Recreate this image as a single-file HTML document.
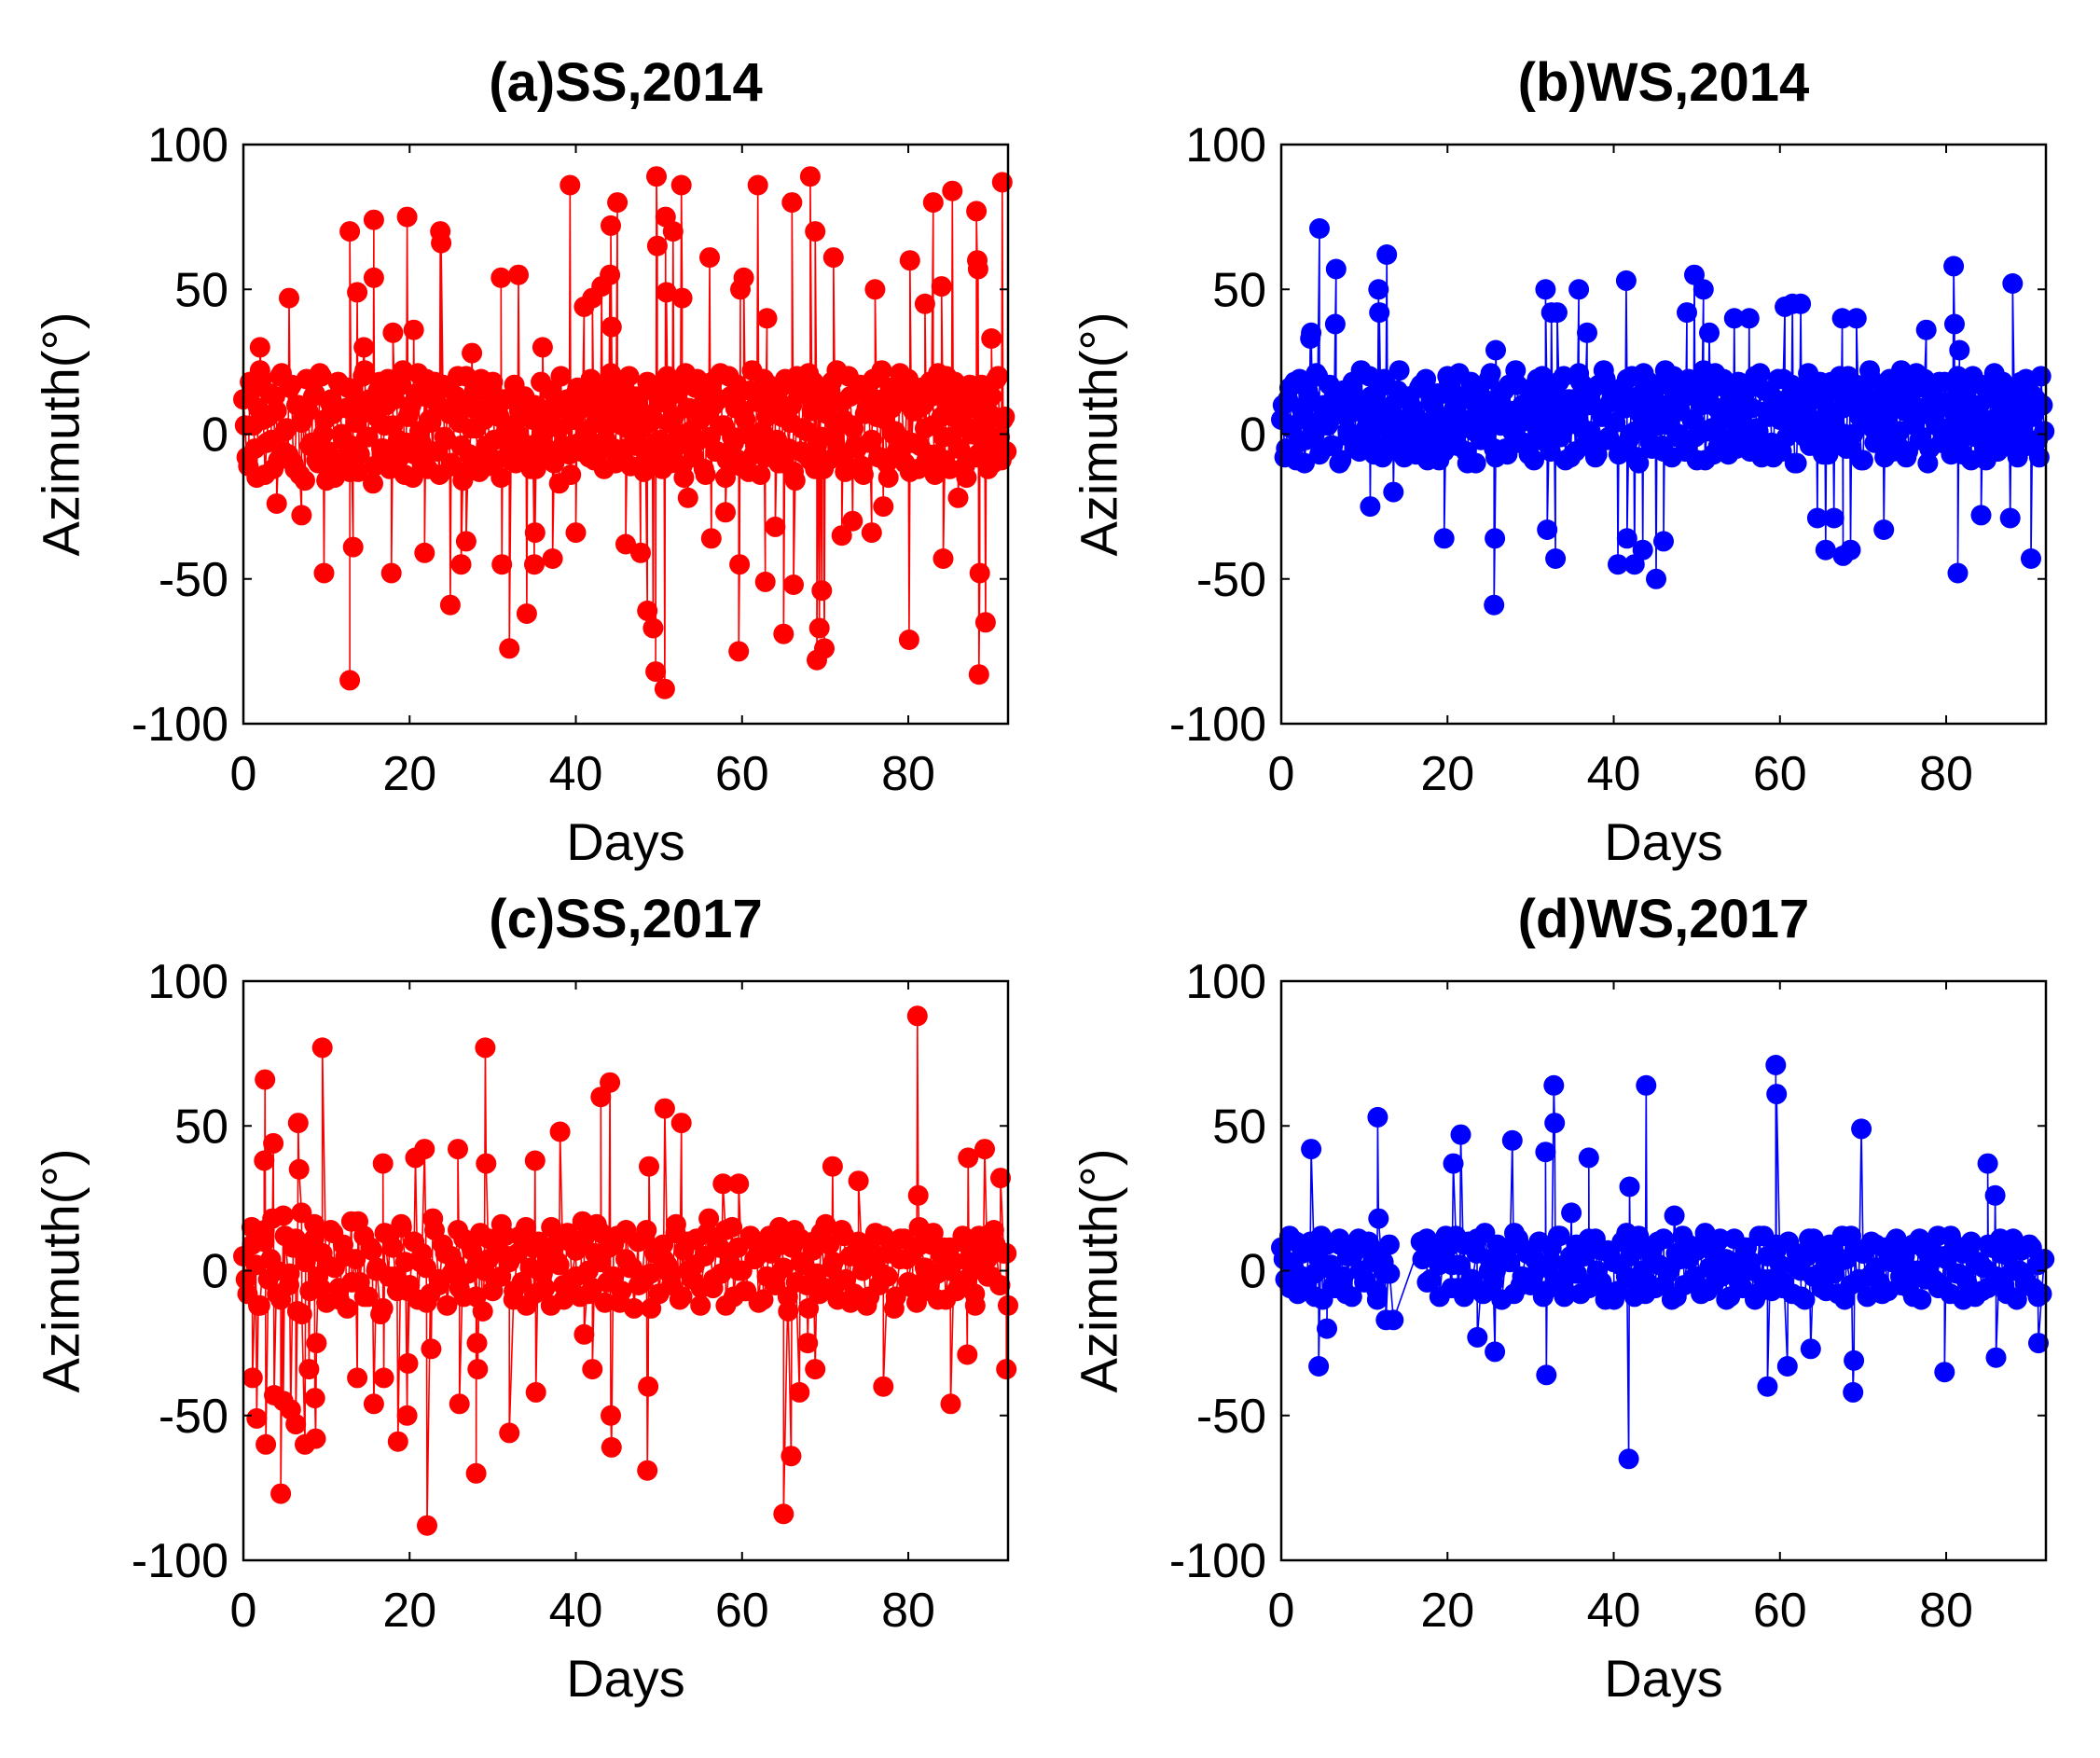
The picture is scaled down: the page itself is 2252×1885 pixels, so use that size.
<!DOCTYPE html>
<html><head><meta charset="utf-8"><style>
html,body{margin:0;padding:0;background:#fff}
svg{display:block}
text{font-family:"Liberation Sans",Arial,sans-serif;fill:#000}
</style></head><body>
<svg id="fig" width="2252" height="1885" viewBox="0 0 2252 1885" xmlns="http://www.w3.org/2000/svg"></svg>
<script>
// ---- data ----
const xTicks=[0,20,40,60,80];
const yTicks=[100,50,0,-50,-100];
const titles=["(a)SS,2014","(b)WS,2014","(c)SS,2017","(d)WS,2017"];
const aBaseStep=0.4;
const aBase=[12,-8,18,3,-15,22,5,-3,14,-12,8,20,-6,2,16,-10,10,-14,6,19,
-4,13,-9,21,0,-16,11,7,-11,17,-2,9,-13,15,4,-7,20,-1,12,-17,
6,18,-5,10,-12,3,16,-8,22,-3,8,-15,14,1,-10,19,5,-6,11,-14,
17,-2,7,-11,13,4,-16,20,-7,9,2,-13,15,-4,10,18,-9,6,-1,12,
-6,3,-10,8,-3,11,-8,5,-12,9,0,-5,7,-9,12,2,-4,10,-7,6,
14,-3,9,1,-8,16,4,-6,12,-2,18,7,-10,15,3,-5,20,8,-4,13,
2,-9,17,6,-3,11,-12,19,4,-7,14,0,-11,21,9,-5,16,-2,10,-14,
7,18,-6,12,3,-15,20,-1,9,-9,15,5,-13,22,-4,11,1,-8,17,-3,
13,-10,6,19,-5,10,-16,14,2,-7,21,8,-12,16,-1,9,-9,18,4,-6,
11,-13,20,3,-4,15,-11,7,17,-2,12,-8,22,5,-15,9,1,-6,14,-10,
19,-3,8,-12,16,2,-7,13,-14,21,6,-9,10,-1,18,-5,4,-11,15,0,
9,-7,17,3,-12,13,-4,20,-9,6];
const aBase2=[3,-11,15,-5,9,19,-14,6,-2,13,-9,21,1,-7,17,-12,10,4,-16,8,
-3,14,-10,20,5,-6,12,-15,18,0,-8,16,-4,11,-13,7,22,-1,9,-11,
15,-5,3,19,-9,12,-2,17,-14,6,10,-7,21,-3,13,-12,4,18,-6,9,
-1,16,-10,7,20,-4,11,-13,2,15,-8,19,5,-11,14,-2,8,-15,12,3,
-9,17,0,-5,13,6,-12,10,-3,18,1,-7,15,-10,9,20,-4,12,-14,5,
16,-6,11,-1,19,-9,7,14,-12,3,21,-5,10,-8,17,2,-11,13,-3,8,
-13,18,4,-7,15,-2,11,20,-10,6,-4,16,-15,9,1,-8,19,5,-12,14,
-1,10,-6,21,3,-9,13,-3,17,-11,8,0,15,-7,12,-14,19,6,-5,11,
-2,16,-10,9,4,-13,20,-6,14,1,-9,18,-4,10,-12,7,15,-1,22,-8,
5,-11,13,2,-5,17,-14,9,-3,19,6,-8,12,-10,16,0,-6,21,-2,11,
-13,8,15,-4,10,-9,18,3,-7,14,-1,20,-12,6,13,-5,9,-15,17,2,
-8,12,-3,16,7,-10,19,-1,5,-6];
const aOutDays=[5.5,9.7,12.8,12.8,13.2,13.7,15.7,15.7,17.8,19.7,21.8,23.7,23.8,24.9,26.2,26.8,31,31.1,32,33.1,34.1,35,35.1,37.2,39.3,40,41,42,43.1,44.1,44.2,44.3,45,46,47.8,48.6,49.3,49.6,49.7,49.8,50.7,50.8,50.9,51.7,52.7,52.8,56.1,56.3,59.6,59.7,59.8,60.2,61.9,62.8,65,66,66.2,68.2,68.8,69,69.3,69.6,69.9,71,73.3,75.6,76,80.1,80.2,83,84,84.2,85.3,88.2,88.3,88.4,88.5,88.6,89.3,91.3,
2,4,7,14.5,18,20.5,27.5,36,38,53.5,58,63,64,72,77,82,86,90];
const aOutVals=[47,-48,-85,70,-39,49,74,54,-48,75,-41,70,66,-59,-45,-37,54,-45,-74,55,-62,-45,-34,-43,86,-34,44,47,51,55,72,37,80,-38,-41,-61,-67,-82,89,65,-88,75,49,70,86,47,61,-36,-75,-45,50,54,86,-51,-69,80,-52,89,70,-78,-67,-54,-74,61,-30,-34,50,-71,60,80,51,-43,84,77,60,57,-83,-48,-65,87,
30,-24,-28,30,35,36,28,30,-17,-22,-27,40,-32,-35,-25,45,-22,33];

const bBaseStep=0.4;
const bBase=[5,-8,12,2,18,-3,9,-10,15,4,0,20,-6,10,3,-4,14,7,-9,11,
1,16,-5,8,22,-2,6,13,-7,10,3,19,-4,9,-1,15,5,-8,12,2,
7,-3,17,4,-9,11,0,14,6,-6,20,2,9,-4,13,5,-10,18,1,8,
-2,12,6,21,-5,10,3,15,-7,8,0,17,4,-3,11,7,-9,19,2,13,
5,-6,14,9,-1,20,3,-8,12,6,18,-4,10,1,16,-7,8,22,-2,11,
4,15,-5,9,19,0,12,-8,7,21,2,-3,14,6,17,-6,10,3,20,-1,
8,13,-4,18,5,-9,11,22,1,16,-7,9,4,19,-2,12,7,-5,15,3,
10,-6,17,2,21,-3,8,14,-8,11,5,19,-1,13,6,-10,16,4,9,-4,
12,1,18,-7,7,15,3,-2,20,9,-5,11,0,17,6,-9,13,22,2,8,
-3,14,5,19,-6,10,1,16,-8,12,4,21,-2,9,7,-5,15,3,18,0,
11,-4,8,17,2,-7,13,6,20,-1,10,4,-9,15,5,12,-3,18,7,1,
14,-6,9,3,19,-2,6,12,-8,10];
const bBase2=[10,-5,16,3,-9,19,7,-2,13,0,21,-7,9,4,17,-4,12,-10,15,6,
-1,18,8,-6,11,2,20,-3,14,5,-8,17,1,10,-5,22,4,-2,13,9,
-7,16,3,19,-4,11,6,-9,14,0,18,-3,8,21,2,-6,12,5,-10,15,
7,-1,19,4,-8,13,9,-5,17,1,22,-3,10,6,-7,16,3,-2,20,11,
-4,14,0,18,5,-9,12,8,-6,21,2,15,-3,10,-8,17,6,19,-1,13,
4,-7,16,9,-2,20,1,-10,14,7,18,-5,11,3,-4,22,8,-8,15,0,
12,-6,19,5,-1,17,10,-9,13,2,21,-4,7,16,-7,11,4,18,-2,14,
-5,9,20,1,-8,15,6,-3,12,19,-6,10,3,17,-10,13,8,-1,21,5,
-4,16,2,11,-7,18,7,-2,14,0,20,-5,9,15,-9,12,4,19,-3,10,
6,-8,17,1,13,-4,22,8,-6,11,3,16,-1,19,-10,14,5,9,-3,18,
2,-7,12,20,-2,15,7,-9,10,4,17,-5,13,0,21,-6,8,16,3,-1,
12,-8,18,5,-4,14,9,-2,20,1];
const bOutDays=[3.5,3.6,4.6,6.5,6.6,10.7,11.7,11.8,12.7,13.5,19.6,25.6,25.7,25.8,31.8,32,32.5,33,33.2,35.8,36.8,40.5,41.5,41.6,42.5,43.5,45.1,46,48.8,49.7,50.8,51.5,54.5,56.3,60.6,61.5,62.5,64.5,65.5,66.5,67.5,67.6,68.5,69.2,72.5,77.6,80.9,81,81.6,81.4,84.2,87.7,88,90.2];
const bOutVals=[33,35,71,38,57,-25,50,42,62,-20,-36,-59,-36,29,50,-33,42,-43,42,50,35,-45,53,-36,-45,-40,-50,-37,42,55,50,35,40,40,44,45,45,-29,-40,-29,40,-42,-40,40,-33,36,58,38,29,-48,-28,-29,52,-43];

const cBaseStep=0.5;
const cBase=[5,-8,15,2,-12,10,-3,18,0,-10,12,-5,8,-14,20,3,-7,11,-2,6,
-11,14,1,-6,9,-13,17,4,-4,12,-9,7,0,-15,13,-2,8,-7,16,3,
-5,10,-10,6,1,-8,14,-3,9,-12,5,2,-6,11,-1,7,-9,13,0,4,
-7,8,-2,12,3,-10,6,-4,15,1,-8,10,-1,5,-12,9,2,-5,13,-3,
7,-9,11,0,-6,16,3,-11,8,-2,12,-7,4,1,-13,10,-4,14,-1,6,
-8,9,2,-5,13,-10,7,0,-3,11,-12,5,18,-6,9,-1,14,3,-9,8,
0,-7,12,4,-11,10,-2,6,-5,15,1,-9,8,-4,11,2,-13,7,-1,13,
-6,9,3,-10,14,-3,5,-8,10,0,-12,7,2,-5,12,-2,8,-9,4,11,
-4,6,-11,9,1,-7,13,-1,5,-10,8,3,-6,10,-3,7,-8,12,0,4,
-2,9,-5,6];
const cBase2Step=0.75;
const cBase2=[-3,9,-12,14,4,-8,19,-1,11,-15,7,16,-6,2,13,-10,5,-4,17,-9,
8,1,-13,12,-2,15,-7,10,3,-11,18,-5,6,-1,14,-9,9,2,-14,11,
-3,16,5,-7,12,-12,8,0,-6,15,3,-10,10,-2,17,-8,6,13,-4,9,
-11,14,1,-5,11,-13,7,4,-1,16,-9,10,2,-6,13,-3,8,-12,15,0,
-7,11,5,-10,12,-2,9,-14,14,3,-5,10,-8,16,1,-4,12,-11,7,2,
-9,13,-1,6,-13,11,4,-6,15,-3,9,-10,8,0,-7,12,3,-12,10,-2,
14,-5,6];
const cOutDays=[1.1,1.6,2.5,2.6,2.7,3.6,3.7,4.5,4.8,5.7,6.3,6.6,6.7,7.4,7.9,8.6,8.7,8.8,9.5,13.7,15.7,16.8,16.9,18.6,19.7,19.8,20.7,21.8,22.1,22.6,25.8,26,28,28.1,28.2,29.1,29.2,32,35.1,35.2,38.1,41,42,43,44.1,44.2,44.3,48.6,48.7,48.8,50.7,52.7,57.7,59.6,65,65.9,66.9,67.9,68.8,70.9,74,77,81.1,81.2,85.1,87.1,87.2,89.2,91.1,91.8,92];
const cOutVals=[-37,-51,38,66,-60,44,-43,-77,-45,-48,-53,51,35,-60,-34,-44,-58,-25,77,-37,-46,37,-37,-59,-50,-32,39,42,-88,-27,42,-46,-70,-25,-34,77,37,-56,38,-42,48,-22,-34,60,65,-50,-61,-69,-40,36,56,51,30,30,-84,-64,-42,-25,-34,36,31,-40,88,26,-46,-29,39,42,32,-34,-12];

const dBaseStep=0.5;
const dBase=[8,-3,12,1,-8,6,-5,10,-1,4,-10,9,2,-6,11,-2,5,-9,7,0,
-4,10,3,-7,6,-1,9,-17,null,null,null,null,null,null,4,11,-3,7,2,5,
8,-6,12,2,-9,10,-3,6,-7,13,0,-4,9,-10,5,3,-8,11,-2,7,
-5,4,10,-9,1,8,-3,12,-6,2,-1,9,-8,5,11,-4,0,7,-10,6,
3,-7,10,-2,5,-9,12,0,-4,8,-6,2,11,-1,-10,6,4,-5,9,-3,
7,-8,13,1,-5,10,-2,4,-9,11,0,-6,8,3,-10,12,-3,5,-7,9,
2,-4,10,-8,6,0,-10,11,-2,7,-6,3,9,-1,-8,12,4,-5,8,-3,
6,-9,10,1,-4,8,-7,3,11,-2,5,-6,9,0,-10,7,2,-3,12,-5,
4,-8,9,-1,6,-4,10,-9,3,1,-6,8,-2,11,-5,5,0,-10,7,-3,
9,-6,2,-8];
const dBase2Step=0.75;
const dBase2=[4,-6,10,-2,7,-9,12,1,-5,9,-8,5,11,-3,8,-10,3,-1,null,null,
null,null,10,-4,6,-9,12,2,-6,9,-3,11,-8,4,0,-10,8,13,-5,6,
-2,10,-7,3,12,-9,5,-1,9,-6,11,-4,7,-10,2,13,-3,8,-8,5,
10,-5,1,-9,12,4,-2,9,-7,6,11,-10,3,-4,8,0,-8,12,-3,7,
-6,10,2,-9,5,11,-1,-7,8,3,-10,12,-4,6,-2,9,-8,4,10,-5,
1,-9,11,-3,7,-6,5,12,-1,-10,8,2,-7,9,-4,6,-8,11,0,-5,
8,-9,4];
const dOutDays=[3.6,4.5,5.5,11.6,11.7,12.6,20.7,21.6,23.6,25.7,27.8,31.8,31.9,32.8,32.9,34.9,37,41.8,41.9,43.9,47.3,58.5,59.5,59.6,60.9,63.7,68.8,68.9,69.8,79.8,85,85.9,86,91.1];
const dOutVals=[42,-33,-20,53,18,-17,37,47,-23,-28,45,41,-36,64,51,20,39,-65,29,64,19,-40,71,61,-33,-27,-42,-31,49,-35,37,26,-30,-25];

// ---- drawing ----
const NS="http://www.w3.org/2000/svg";
const svg=document.getElementById('fig');
const W=820,H=621,XMAX=92;
function mk(tag,attrs,parent){const e=document.createElementNS(NS,tag);for(const k in attrs)e.setAttribute(k,attrs[k]);(parent||svg).appendChild(e);return e;}
function merge(bases,od,ov){
  const pts=[];
  bases.forEach(b=>{b[0].forEach((v,i)=>{if(v!==null)pts.push([b[2]+i*b[1],v]);});});
  od.forEach((d,i)=>pts.push([d,ov[i]]));
  pts.sort((p,q)=>p[0]-q[0]);
  return pts;
}
const panels=[
 {l:261,t:155,c:'#ff0000',pts:merge([[aBase,aBaseStep,0],[aBase2,aBaseStep,0.2]],aOutDays,aOutVals),id:'a'},
 {l:1374,t:155,c:'#0000ff',pts:merge([[bBase,bBaseStep,0],[bBase2,bBaseStep,0.2]],bOutDays,bOutVals),id:'b'},
 {l:261,t:1052,c:'#ff0000',pts:merge([[cBase,cBaseStep,0],[cBase2,cBase2Step,0.3]],cOutDays,cOutVals),id:'c'},
 {l:1374,t:1052,c:'#0000ff',pts:merge([[dBase,dBaseStep,0],[dBase2,dBase2Step,0.3]],dOutDays,dOutVals),id:'d'}
];
panels.forEach((p,pi)=>{
  const g=mk('g',{});
  
  
  const xs=d=>p.l+d/XMAX*W;
  const ys=v=>p.t+(100-v)/200*H;
  const ttl=mk('text',{x:p.l+W/2,y:p.t-47,'text-anchor':'middle','font-size':58,'font-weight':'bold'},g);
  ttl.textContent=titles[pi];
  
  
  const sg=mk('g',{},g);
  
  
  const line=mk('polyline',{points:p.pts.map(q=>xs(q[0]).toFixed(1)+','+ys(q[1]).toFixed(1)).join(' '),fill:'none',stroke:p.c,'stroke-width':1.6},sg);
  
  
  p.pts.forEach(q=>{
    const c=mk('circle',{cx:xs(q[0]).toFixed(1),cy:ys(q[1]).toFixed(1),r:11,fill:p.c},sg);
    
    
  });
  const fr=mk('rect',{x:p.l,y:p.t,width:W,height:H,fill:'none',stroke:'#000','stroke-width':2.5},g);
  
  
  xTicks.forEach(v=>{
    const x=xs(v);
    mk('line',{x1:x,y1:p.t+H,x2:x,y2:p.t+H-9,stroke:'#000','stroke-width':2},g);
    mk('line',{x1:x,y1:p.t,x2:x,y2:p.t+9,stroke:'#000','stroke-width':2},g);
    const t=mk('text',{x:x,y:p.t+H+71,'text-anchor':'middle','font-size':52},g);
    t.textContent=v;
    
    
  });
  yTicks.forEach(v=>{
    const y=ys(v);
    mk('line',{x1:p.l,y1:y,x2:p.l+9,y2:y,stroke:'#000','stroke-width':2},g);
    mk('line',{x1:p.l+W,y1:y,x2:p.l+W-9,y2:y,stroke:'#000','stroke-width':2},g);
    const t=mk('text',{x:p.l-16,y:y+18,'text-anchor':'end','font-size':52},g);
    t.textContent=v;
    
    
  });
  const xl=mk('text',{x:p.l+W/2,y:p.t+H+146,'text-anchor':'middle','font-size':56},g);
  xl.textContent='Days';
  
  
  const cx=p.l-196,cy=p.t+H/2;
  const yl=mk('text',{x:cx,y:cy,'text-anchor':'middle','font-size':56,transform:'rotate(-90 '+cx+' '+cy+')','dominant-baseline':'central'},g);
  yl.textContent='Azimuth(°)';
  
  
});
</script>
</body></html>
